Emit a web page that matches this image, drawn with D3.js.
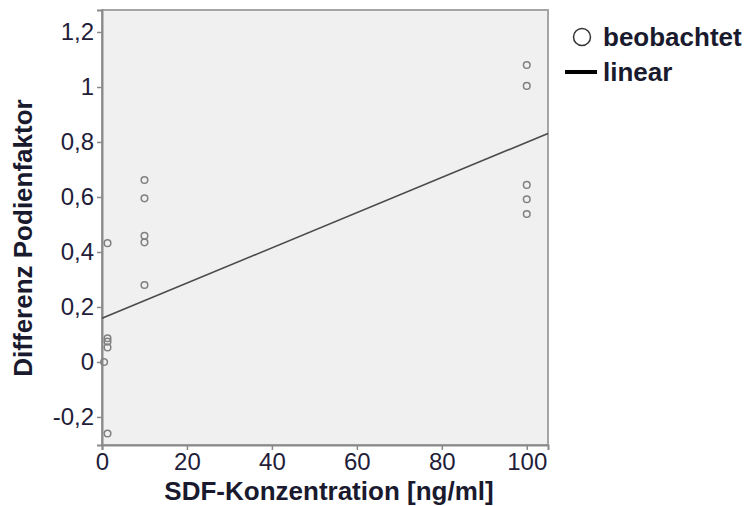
<!DOCTYPE html>
<html>
<head>
<meta charset="utf-8">
<script src="https://cdn.jsdelivr.net/npm/d3@7"></script>
<style>
  body { margin: 0; background: #fff; }
  svg text { font-family: "Liberation Sans", Arial, sans-serif; }
  .tick-label { font-size: 24px; fill: #231d3a; }
  .title { font-size: 26px; font-weight: bold; fill: #1a1a2e; }
</style>
</head>
<body>
<svg id="chart"></svg>
<script>
// observed points: SDF concentration (ng/ml) and difference
const concentration = [0.5, 1.3, 1.3, 1.3, 1.3, 1.3,
                       10, 10, 10, 10, 10,
                       100, 100, 100, 100, 100];
const difference = [0.0, 0.432, 0.086, 0.074, 0.053, -0.26,
                    0.662, 0.595, 0.459, 0.435, 0.28,
                    1.08, 1.004, 0.644, 0.592, 0.538];

// linear fit
const fitIntercept = 0.159;
const fitSlope = 0.0064;

const xTicks = [0, 20, 40, 60, 80, 100];
const yTicks = [-0.2, 0, 0.2, 0.4, 0.6, 0.8, 1, 1.2];
const legendItems = ['beobachtet', 'linear'];

const width = 747, height = 506;
const margin = { left: 102, top: 10, right: 199, bottom: 61 };
const plotW = width - margin.left - margin.right;
const plotH = height - margin.top - margin.bottom;

const svg = d3.select('#chart')
    .attr('width', width)
    .attr('height', height);

const x = d3.scaleLinear().domain([0, 105]).range([0, plotW]);
const y = d3.scaleLinear().domain([-0.302, 1.28]).range([plotH, 0]);

const g = svg.append('g')
    .attr('transform', `translate(${margin.left},${margin.top})`);

// plot background + frame
g.append('rect')
    .attr('width', plotW)
    .attr('height', plotH)
    .attr('fill', '#f0f0f0')
    .attr('stroke', '#a5a5a5')
    .attr('stroke-width', 2);

const fmt = d => String(+d.toFixed(1)).replace('.', ',');

// axes
const xAxis = g.append('g')
    .attr('transform', `translate(0,${plotH})`)
    .call(d3.axisBottom(x).tickValues(xTicks).tickSize(5).tickPadding(3).tickFormat(d3.format('d')));

const yAxis = g.append('g')
    .call(d3.axisLeft(y).tickValues(yTicks).tickSize(5).tickPadding(3).tickFormat(fmt));

[xAxis, yAxis].forEach(ax => {
    ax.select('.domain').attr('stroke', '#8a8a8a').attr('stroke-width', 2);
    ax.selectAll('.tick line').attr('stroke', '#8a8a8a').attr('stroke-width', 1.5);
    ax.selectAll('.tick text')
        .attr('class', 'tick-label')
        .attr('font-size', null)
        .attr('font-family', null)
        .attr('fill', null);
});

// regression line
const fitX = x.domain();
g.append('line')
    .attr('x1', x(fitX[0]))
    .attr('y1', y(fitIntercept + fitSlope * fitX[0]))
    .attr('x2', x(fitX[1]))
    .attr('y2', y(fitIntercept + fitSlope * fitX[1]))
    .attr('stroke', '#4a4a4a')
    .attr('stroke-width', 1.6);

// observed points
g.selectAll('.pt')
    .data(concentration.map((c, i) => [c, difference[i]]))
    .enter()
    .append('circle')
    .attr('class', 'pt')
    .attr('cx', d => x(d[0]))
    .attr('cy', d => y(d[1]))
    .attr('r', 3.3)
    .attr('fill', 'none')
    .attr('stroke', '#808080')
    .attr('stroke-width', 1.5);

// axis titles
svg.append('text')
    .attr('class', 'title')
    .attr('x', 329)
    .attr('y', 500)
    .attr('text-anchor', 'middle')
    .text('SDF-Konzentration [ng/ml]');

svg.append('text')
    .attr('class', 'title')
    .attr('transform', 'translate(32,238) rotate(-90)')
    .attr('text-anchor', 'middle')
    .text('Differenz Podienfaktor');

// legend
const legend = svg.append('g').attr('transform', 'translate(565,0)');
legend.append('circle')
    .attr('cx', 17).attr('cy', 37).attr('r', 8.5)
    .attr('fill', 'none').attr('stroke', '#333').attr('stroke-width', 1.5);
legend.append('line')
    .attr('x1', 0).attr('x2', 32).attr('y1', 72).attr('y2', 72)
    .attr('stroke', '#000').attr('stroke-width', 4);
legend.selectAll('.lg')
    .data(legendItems)
    .enter()
    .append('text')
    .attr('class', 'title')
    .attr('x', 38)
    .attr('y', (d, i) => 46 + i * 35)
    .text(d => d);
</script>
</body>
</html>
